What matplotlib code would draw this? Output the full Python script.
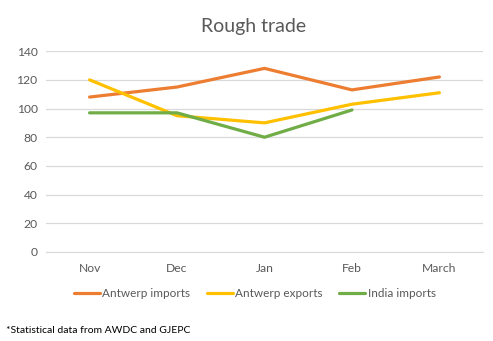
import matplotlib.pyplot as plt
import numpy as np

months = ['Nov', 'Dec', 'Jan', 'Feb', 'March']
antwerp_imports = [108, 115, 128, 113, 122]
antwerp_exports = [120, 95, 90, 103, 111]
india_imports = [97, 97, 80, 99]

plt.rcParams['font.family'] = ['Lato', 'DejaVu Sans']
grey = '#595959'

fig = plt.figure(figsize=(4.93, 3.41), dpi=100)
ax = fig.add_axes([0.093, 0.261, 0.887, 0.589])

x = np.arange(len(months))
ax.plot(x, antwerp_imports, color='#ED7D31', lw=2.3, label='Antwerp imports', solid_capstyle='round')
ax.plot(x, antwerp_exports, color='#FFC000', lw=2.3, label='Antwerp exports', solid_capstyle='round')
ax.plot(x[:len(india_imports)], india_imports, color='#70AD47', lw=2.3, label='India imports', solid_capstyle='round')

ax.set_xlim(-0.5, len(months) - 0.5)
ax.set_ylim(0, 140)
ax.set_yticks(range(0, 141, 20))
ax.set_xticks(x)
ax.set_xticklabels(months)
ax.grid(axis='y', color='#D9D9D9', lw=0.9)
ax.set_axisbelow(True)
for s in ['top', 'right', 'left']:
    ax.spines[s].set_visible(False)
ax.spines['bottom'].set_color('#D9D9D9')
ax.tick_params(length=0, colors=grey, labelsize=8.7)
ax.tick_params(axis='x', pad=8)
ax.tick_params(axis='y', pad=6)

fig.text(0.515, 0.922, 'Rough trade', ha='center', va='center', fontsize=14, color=grey)

# legend row under the axis
fig.legend(loc='center', bbox_to_anchor=(0.517, 0.138), ncol=3, frameon=False,
           fontsize=8.5, handlelength=2.2, handletextpad=0.2, columnspacing=1.4,
           labelcolor=grey)

fig.text(0.012, 0.032, '*Statistical data from AWDC and GJEPC', fontsize=7.5, color='black',
         ha='left', va='center')

fig.savefig('out.png', dpi=100)
